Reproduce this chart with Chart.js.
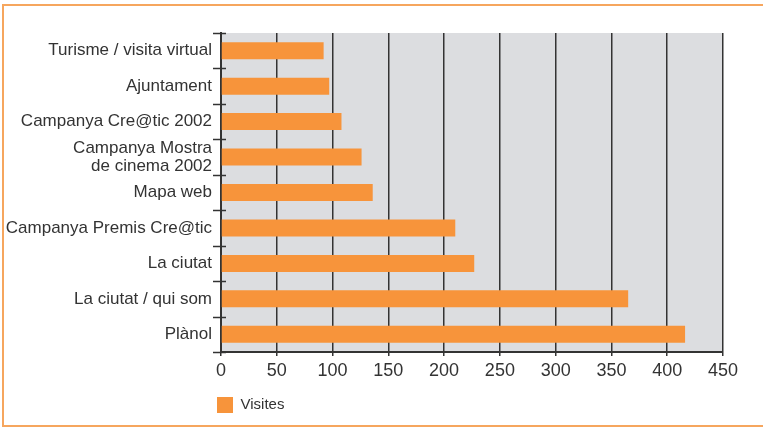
<!DOCTYPE html>
<html>
<head>
<meta charset="utf-8">
<script src="https://cdn.jsdelivr.net/npm/chart.js@4"></script>
<style>
  html, body { margin: 0; padding: 0; background: #fff; }
  #wrap { position: relative; width: 763px; height: 428px; overflow: hidden; }
  #frame { position: absolute; left: 2px; top: 4px; width: 820px; height: 419px;
           border: 2px solid #f6a65e; border-right: none; pointer-events: none; }
  canvas { position: absolute; left: 0; top: 0; }
</style>
</head>
<body>
<div id="wrap">
  <canvas id="c" width="763" height="428"></canvas>
  <div id="frame"></div>
</div>
<script>
const categories = [
  'Turisme / visita virtual',
  'Ajuntament',
  'Campanya Cre@tic 2002',
  ['Campanya Mostra', 'de cinema 2002'],
  'Mapa web',
  'Campanya Premis Cre@tic',
  'La ciutat',
  'La ciutat / qui som',
  'Plànol'
];
const visites = [92, 97, 108, 126, 136, 210, 227, 365, 416];
const seriesName = 'Visites';
const xMin = 0, xMax = 450, xStep = 50;

const TEXT = '#333333';
const DARK = '#333333';
const BAR = '#f7943b';
const PLOT_BG = '#dcdde0';

const bgPlugin = {
  id: 'plotBg',
  beforeDraw(chart) {
    const {ctx, chartArea: a} = chart;
    ctx.save();
    ctx.fillStyle = PLOT_BG;
    ctx.fillRect(a.left, a.top, a.right - a.left, a.bottom - a.top);
    ctx.restore();
  },
  afterLayout(chart) {
    const lg = chart.legend;
    if (lg) { lg.left -= 14; lg.right -= 14; }
  },
  afterDraw(chart) {
    const {ctx, chartArea: a} = chart;
    const ys = chart.scales.y;
    ctx.save();
    ctx.strokeStyle = DARK;
    ctx.lineWidth = 1.5;
    for (let i = 0; i <= categories.length; i++) {
      const y = Math.round(ys.getPixelForValue(i - 0.5)) + 0.5;
      ctx.beginPath();
      ctx.moveTo(a.left - 8, y);
      ctx.lineTo(a.left + 5, y);
      ctx.stroke();
    }
    ctx.restore();
  }
};

new Chart(document.getElementById('c'), {
  type: 'bar',
  data: {
    labels: categories,
    datasets: [{
      label: seriesName,
      data: visites,
      backgroundColor: BAR,
      borderWidth: 0,
      barPercentage: 0.48,
      categoryPercentage: 1
    }]
  },
  options: {
    indexAxis: 'y',
    responsive: false,
    animation: false,
    events: [],
    layout: { padding: { left: 0, right: 40, top: 33, bottom: 5 } },
    scales: {
      x: {
        min: xMin, max: xMax,
        ticks: { stepSize: xStep, color: TEXT, padding: 4,
                 font: { family: 'Liberation Sans', size: 18 } },
        grid: { color: DARK, lineWidth: 1.5, tickLength: 4, drawTicks: true },
        border: { display: true, color: DARK, width: 2 },
        afterFit(s) { s.height = 35; }
      },
      y: {
        ticks: { color: TEXT, padding: 9, autoSkip: false,
                 font: { family: 'Liberation Sans', size: 17, lineHeight: 1.05 } },
        grid: { drawOnChartArea: false, drawTicks: false },
        border: { display: true, color: DARK, width: 2 },
        afterFit(s) { s.width = 221; }
      }
    },
    plugins: {
      tooltip: { enabled: false },
      legend: {
        position: 'bottom',
        align: 'start',
        fullSize: false,
        labels: {
          boxWidth: 16, boxHeight: 16, padding: 10, color: TEXT,
          font: { family: 'Liberation Sans', size: 15 }
        }
      }
    }
  },
  plugins: [bgPlugin]
});
</script>
</body>
</html>
